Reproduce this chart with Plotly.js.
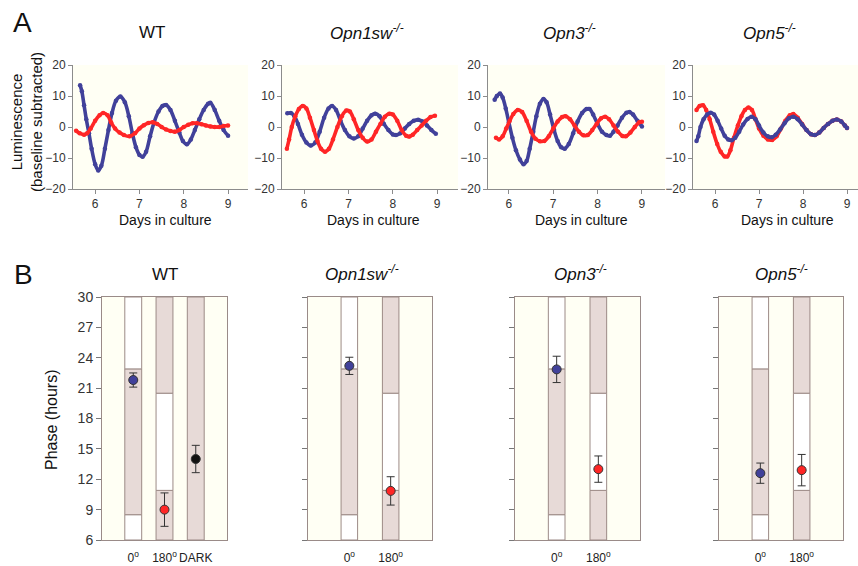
<!DOCTYPE html>
<html>
<head>
<meta charset="utf-8">
<script src="https://cdn.plot.ly/plotly-3.0.1.min.js"></script>
<style>html,body{margin:0;padding:0;background:#fff;}#chart{width:858px;height:566px;}</style>
</head>
<body>
<div id="chart"></div>
<script>
// ---------- Panel A data (days in culture, luminescence) ----------
const wtBlueX = [5.66,5.70,5.75,5.80,5.86,5.92,6.00,6.07,6.14,6.22,6.30,6.38,6.47,6.57,6.67,6.76,6.84,6.92,7.00,7.07,7.15,7.24,7.33,7.43,7.52,7.60,7.70,7.80,7.90,7.98,8.07,8.16,8.25,8.35,8.45,8.55,8.60,8.70,8.80,8.90,9.00];
const wtBlueY = [13.5,11.5,7.0,2.5,-2.0,-7.0,-12.0,-14.0,-12.5,-7.0,-1.0,4.5,8.5,9.8,8.0,3.5,-2.0,-6.5,-9.0,-9.6,-8.0,-3.0,1.5,5.0,6.8,7.1,5.5,2.0,-1.8,-4.5,-5.6,-4.0,-1.0,2.5,5.5,7.5,7.8,5.5,2.0,-1.0,-2.8];
const wtRedX = [5.57,5.65,5.75,5.82,5.90,6.00,6.10,6.18,6.28,6.36,6.45,6.55,6.65,6.78,6.90,7.00,7.10,7.20,7.30,7.40,7.50,7.60,7.70,7.80,7.90,8.00,8.10,8.20,8.30,8.40,8.50,8.60,8.70,8.80,8.90,9.00];
const wtRedY = [-1.2,-2.0,-2.5,-2.0,-0.5,2.0,3.8,4.5,3.8,1.5,-0.5,-1.8,-2.6,-3.0,-2.0,-0.5,0.6,1.3,1.5,1.0,0.0,-0.8,-1.3,-1.5,-1.0,0.0,0.7,1.2,1.2,0.9,0.5,0.2,0.0,0.0,0.3,0.5];

const swBlueX = [5.62,5.70,5.78,5.86,5.95,6.05,6.15,6.25,6.35,6.45,6.55,6.63,6.72,6.82,6.92,7.02,7.12,7.22,7.32,7.42,7.52,7.60,7.70,7.80,7.90,8.00,8.07,8.17,8.27,8.37,8.47,8.57,8.67,8.77,8.87,8.97];
const swBlueY = [4.4,4.5,3.5,1.0,-2.5,-5.0,-6.0,-5.0,-1.5,3.0,6.0,6.8,5.5,2.0,-1.0,-3.0,-3.7,-3.0,-0.5,2.0,3.8,4.3,3.5,1.0,-1.0,-2.4,-2.6,-2.0,-0.5,1.0,2.0,2.3,1.8,0.5,-1.0,-2.2];
const swRedX = [5.61,5.66,5.72,5.80,5.88,5.97,6.05,6.13,6.22,6.30,6.38,6.47,6.56,6.65,6.75,6.85,6.95,7.03,7.12,7.22,7.32,7.42,7.52,7.62,7.72,7.82,7.92,8.00,8.10,8.20,8.30,8.37,8.45,8.55,8.65,8.75,8.85,8.95];
const swRedY = [-7.0,-4.0,0.0,3.5,5.8,6.8,6.0,3.0,-1.0,-4.5,-7.0,-8.0,-7.0,-4.0,0.0,3.5,5.3,5.0,2.5,-1.0,-3.5,-4.7,-4.0,-1.5,1.0,3.3,4.3,4.0,2.0,-1.0,-2.8,-3.1,-2.5,-1.0,0.5,2.0,3.2,3.6];

const o3BlueX = [5.68,5.73,5.80,5.86,5.93,6.00,6.08,6.16,6.25,6.33,6.40,6.47,6.55,6.62,6.70,6.78,6.85,6.93,7.02,7.10,7.18,7.26,7.35,7.45,7.55,7.65,7.75,7.82,7.90,8.00,8.10,8.20,8.28,8.36,8.45,8.55,8.65,8.72,8.80,8.90,9.00];
const o3BlueY = [8.8,10.0,10.8,9.5,6.0,1.5,-3.5,-7.5,-10.5,-12.0,-11.0,-7.0,-1.5,3.5,7.5,9.0,8.0,4.0,-1.0,-4.5,-6.5,-7.0,-5.5,-2.0,1.8,4.5,5.8,5.8,4.0,1.0,-1.5,-2.6,-2.8,-1.5,0.5,3.0,4.6,4.8,4.0,2.0,0.2];
const o3RedX = [5.71,5.78,5.86,5.94,6.02,6.10,6.20,6.30,6.40,6.50,6.60,6.70,6.80,6.90,7.00,7.10,7.20,7.28,7.38,7.48,7.58,7.68,7.78,7.88,7.98,8.08,8.17,8.26,8.36,8.46,8.56,8.64,8.74,8.84,8.94,9.00];
const o3RedY = [-3.5,-4.0,-3.0,-0.5,2.0,4.2,5.5,4.8,2.0,-1.5,-3.8,-4.6,-4.5,-3.0,-0.5,1.8,3.2,3.5,2.5,0.5,-1.5,-2.7,-2.6,-1.0,1.0,2.8,3.3,2.5,0.5,-1.5,-2.9,-3.0,-1.8,0.0,1.5,1.7];

const o5RedX = [5.58,5.65,5.73,5.80,5.88,5.96,6.05,6.13,6.22,6.28,6.35,6.43,6.52,6.60,6.68,6.76,6.84,6.92,7.00,7.10,7.20,7.30,7.40,7.50,7.60,7.70,7.78,7.88,7.98,8.08,8.18,8.27,8.37,8.47,8.57,8.67,8.77,8.87,8.95,9.00];
const o5RedY = [5.5,6.8,7.0,5.5,2.5,-1.5,-5.5,-8.0,-9.5,-9.5,-7.5,-3.5,0.5,3.5,5.5,6.3,5.5,2.5,-0.5,-2.8,-4.0,-4.2,-3.0,-0.5,2.0,3.8,4.2,3.0,1.0,-1.0,-2.3,-2.6,-1.8,-0.3,1.0,2.0,2.4,1.8,0.5,-0.3];
const o5BlueX = [5.58,5.62,5.67,5.74,5.82,5.90,5.98,6.06,6.14,6.22,6.30,6.38,6.46,6.55,6.64,6.74,6.83,6.92,7.00,7.10,7.20,7.29,7.38,7.48,7.58,7.68,7.78,7.88,7.98,8.08,8.18,8.27,8.37,8.47,8.57,8.67,8.77,8.87,8.95,9.00];
const o5BlueY = [-4.5,-3.0,0.0,2.5,4.0,4.6,4.0,2.0,-0.5,-2.8,-4.0,-4.3,-3.5,-1.5,0.8,2.6,3.3,2.5,0.5,-1.8,-3.0,-3.3,-2.5,-0.8,1.2,2.8,3.3,2.5,0.8,-1.0,-2.3,-2.6,-1.8,-0.3,1.0,2.0,2.4,1.8,0.5,-0.3];

const lumTicks = [-20,-10,0,10,20];
const dayTicks = [6,7,8,9];

// ---------- Panel B data (phase, hours) ----------
const phaseTicks = [6,9,12,15,18,21,24,27,30];
const wtConditions = ['0<sup>o</sup>','180<sup>o</sup>','DARK'];
const mutConditions = ['0<sup>o</sup>','180<sup>o</sup>'];
// bar segments: column index, segment base, segment top, shaded (1) or white (0)
const wtSegCol   = [1,1,1,2,2,2,3];
const wtSegBase  = [6,8.5,22.9,6,10.9,20.5,6];
const wtSegTop   = [8.5,22.9,30,10.9,20.5,30,30];
const wtSegShade = [0,1,0,1,0,1,1];
const mutSegCol   = [1,1,1,2,2,2];
const mutSegBase  = [6,8.5,22.9,6,10.9,20.5];
const mutSegTop   = [8.5,22.9,30,10.9,20.5,30];
const mutSegShade = [0,1,0,1,0,1];
// mean phase and error
const wtPhase = [21.8, 9.0, 14.0];   const wtErr = [0.7, 1.65, 1.35];
const swPhase = [23.2, 10.85];       const swErr = [0.85, 1.4];
const o3Phase = [22.85, 13.0];       const o3Err = [1.3, 1.3];
const o5Phase = [12.6, 12.9];        const o5Err = [1.0, 1.55];

// ---------- styling ----------
const W = 858, H = 566;
const BLUE = '#41419a', RED = '#ff2626', BLACK = '#111111';
const SHADE = '#e7dad7', BARLINE = '#9c8a86', FRAME = '#9a8b88';
const FONT = 'Liberation Sans, Arial, sans-serif';
const px = v => v / W, py = v => 1 - v / H;

const traces = [];
function series(x, y, color, ax) {
  traces.push({x: x, y: y, type: 'scatter', mode: 'lines+markers',
    line: {color: color, width: 3.6, shape: 'spline', smoothing: 0.9},
    marker: {color: color, size: 4.5},
    xaxis: 'x' + ax, yaxis: 'y' + ax, hoverinfo: 'skip'});
}
series(wtBlueX, wtBlueY, BLUE, ''); series(wtRedX, wtRedY, RED, '');
series(swBlueX, swBlueY, BLUE, '2'); series(swRedX, swRedY, RED, '2');
series(o3BlueX, o3BlueY, BLUE, '3'); series(o3RedX, o3RedY, RED, '3');
series(o5RedX, o5RedY, RED, '4'); series(o5BlueX, o5BlueY, BLUE, '4');

function bars(col, base, top, shade, width, ax) {
  traces.push({type: 'bar', x: col, base: base, y: top.map((t, i) => t - base[i]),
    width: width, marker: {color: shade.map(s => s ? SHADE : '#ffffff'), line: {color: BARLINE, width: 1}},
    xaxis: 'x' + ax, yaxis: 'y' + ax, hoverinfo: 'skip'});
}
function points(phase, err, colors, ax) {
  traces.push({type: 'scatter', mode: 'markers', x: phase.map((_, i) => i + 1), y: phase,
    error_y: {type: 'data', array: err, visible: true, color: '#333', thickness: 1, width: 4},
    marker: {size: 9, color: colors, line: {color: '#333', width: 1}},
    xaxis: 'x' + ax, yaxis: 'y' + ax, hoverinfo: 'skip'});
}
bars(wtSegCol, wtSegBase, wtSegTop, wtSegShade, 0.54, '5');
points(wtPhase, wtErr, [BLUE, RED, BLACK], '5');
bars(mutSegCol, mutSegBase, mutSegTop, mutSegShade, 0.4, '6');
points(swPhase, swErr, [BLUE, RED], '6');
bars(mutSegCol, mutSegBase, mutSegTop, mutSegShade, 0.4, '7');
points(o3Phase, o3Err, [BLUE, RED], '7');
bars(mutSegCol, mutSegBase, mutSegTop, mutSegShade, 0.4, '8');
points(o5Phase, o5Err, [BLUE, RED], '8');

const layout = {
  width: W, height: H, margin: {l: 0, r: 0, t: 0, b: 0},
  paper_bgcolor: '#ffffff', plot_bgcolor: '#fffff4',
  showlegend: false, barmode: 'overlay',
  font: {family: FONT, color: '#222'},
  annotations: [], shapes: []
};
const aX = [[73, 248, 5.5, 9.45], [282, 458, 5.5, 9.47], [488, 665, 5.53, 9.52], [693, 858, 5.5, 9.25]];
const aNames = ['', '2', '3', '4'];
aX.forEach((d, i) => {
  const n = aNames[i];
  layout['xaxis' + n] = {domain: [px(d[0]), px(d[1])], range: [d[2], d[3]], anchor: 'y' + n,
    showline: true, linecolor: '#8c8c8c', linewidth: 1, ticks: 'outside', ticklen: 4, tickcolor: '#8c8c8c',
    tickvals: dayTicks, showgrid: false, zeroline: false, tickfont: {size: 12, color: '#333'}, fixedrange: true};
  layout['yaxis' + n] = {domain: [py(189), py(65)], range: [-20, 20], anchor: 'x' + n,
    showline: true, linecolor: '#8c8c8c', linewidth: 1, ticks: 'outside', ticklen: 4, tickcolor: '#8c8c8c',
    tickvals: lumTicks, showgrid: false, zeroline: false, tickfont: {size: 12, color: '#333'}, fixedrange: true};
});
const bX = [[102, 227, 0, 4, wtConditions], [308, 432, 0, 3, mutConditions], [515, 640, 0, 3, mutConditions], [719, 843, 0, 3, mutConditions]];
bX.forEach((d, i) => {
  const n = String(i + 5);
  layout['xaxis' + n] = {domain: [px(d[0]), px(d[1])], range: [d[2], d[3]], anchor: 'y' + n,
    showline: true, mirror: true, linecolor: FRAME, linewidth: 1, ticks: '', tickangle: 0,
    tickvals: d[4].map((_, k) => k + 1), ticktext: d[4], ticklabelstandoff: 7,
    showgrid: false, zeroline: false, tickfont: {size: 12, color: '#222'}, fixedrange: true};
  layout['yaxis' + n] = {domain: [py(540), py(297)], range: [6, 30], anchor: 'x' + n,
    showline: true, mirror: true, linecolor: FRAME, linewidth: 1, ticks: 'outside', ticklen: 5, tickcolor: '#777',
    tickvals: phaseTicks, showticklabels: i === 0, showgrid: false, zeroline: false,
    tickfont: {size: 14, color: '#333'}, fixedrange: true};
});

function ann(text, x, y, size, extra) {
  layout.annotations.push(Object.assign({text: text, x: px(x), y: py(y), xref: 'paper', yref: 'paper',
    showarrow: false, xanchor: 'center', yanchor: 'middle', font: {size: size, color: '#111', family: FONT}}, extra || {}));
}
ann('A', 22, 22, 28);
ann('B', 23, 274, 28);
ann('WT', 152, 33, 17);
ann('<i>Opn1sw<sup>-/-</sup></i>', 367, 32, 17);
ann('<i>Opn3<sup>-/-</sup></i>', 569, 32, 17);
ann('<i>Opn5<sup>-/-</sup></i>', 769, 32, 17);
ann('Days in culture', 165, 220, 14);
ann('Days in culture', 373, 220, 14);
ann('Days in culture', 581, 220, 14);
ann('Days in culture', 787, 220, 14);
ann('Luminescence<br>(baseline subtracted)', 27, 122, 15, {textangle: -90});
ann('WT', 165, 274, 17);
ann('<i>Opn1sw<sup>-/-</sup></i>', 362, 273, 17);
ann('<i>Opn3<sup>-/-</sup></i>', 580, 273, 17);
ann('<i>Opn5<sup>-/-</sup></i>', 781, 273, 17);
ann('Phase (hours)', 51, 420, 16, {textangle: -90});

Plotly.newPlot('chart', traces, layout, {staticPlot: true, displayModeBar: false});
</script>
</body>
</html>
